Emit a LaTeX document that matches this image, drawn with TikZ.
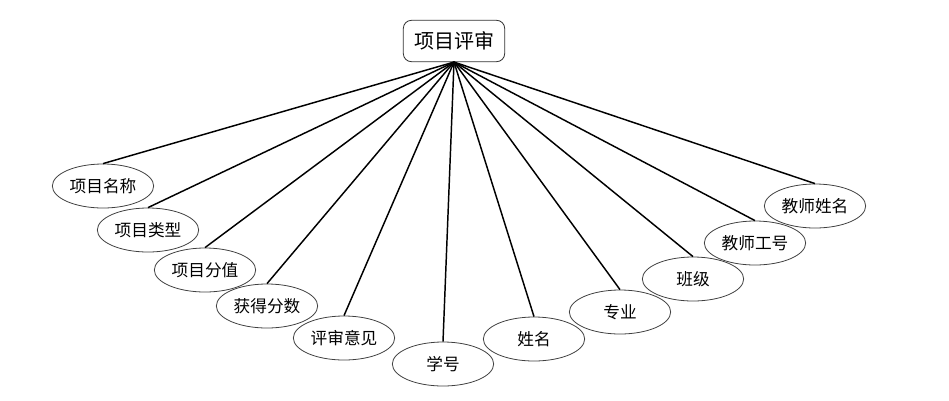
\documentclass[tikz,border=0pt]{standalone}
\usepackage{fontspec}
\setmainfont{Noto Sans CJK SC}
\usetikzlibrary{shapes.geometric}

\begin{document}
\begin{tikzpicture}[x=0.75pt,y=-0.75pt,line width=1.1pt,attr node/.style={ellipse,draw,line width=0.6pt,draw=black!75,minimum width=76pt,minimum height=33pt,inner sep=0pt,font=\fontsize{12.5}{15}\selectfont}]
            \useasboundingbox (0,0) rectangle (949,400);

            \node [rectangle, draw, line width=0.6pt, draw=black!80, rounded corners=6pt, minimum width=76pt, minimum height=31pt, font=\fontsize{15}{18}\selectfont](0) at (454,41){项目评审};

            \node [attr node](1) at (103,186){项目名称};
            \node [attr node](2) at (148,230){项目类型};
            \node [attr node](3) at (205,270){项目分值};
            \node [attr node](4) at (267,306){获得分数};
            \node [attr node](5) at (344,338){评审意见};
            \node [attr node](6) at (443,364){学号};
            \node [attr node](7) at (534,339){姓名};
            \node [attr node](8) at (620,312){专业};
            \node [attr node](9) at (693,279){班级};
            \node [attr node](10) at (755,243){教师工号};
            \node [attr node](11) at (815,206){教师姓名};

            \path
                (0.south) edge (1.north)
                (0.south) edge (2.north)
                (0.south) edge (3.north)
                (0.south) edge (4.north)
                (0.south) edge (5.north)
                (0.south) edge (6.north)
                (0.south) edge (7.north)
                (0.south) edge (8.north)
                (0.south) edge (9.north)
                (0.south) edge (10.north)
                (0.south) edge (11.north)
                ;
        \end{tikzpicture}
\end{document}
